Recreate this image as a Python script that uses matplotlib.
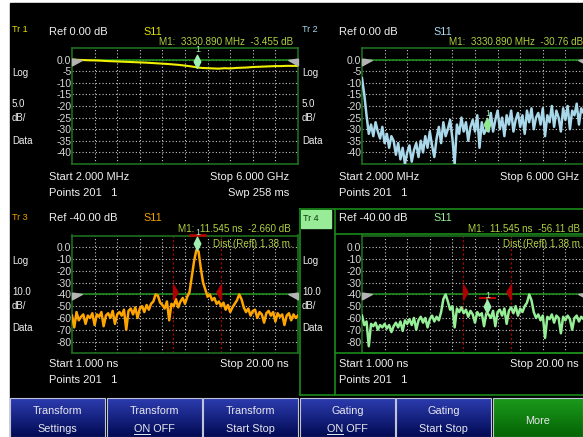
import numpy as np  # numbers for axes and gradients
import matplotlib
matplotlib.use("Agg")
import matplotlib.pyplot as plt  # plotting
from matplotlib.path import Path
from matplotlib.patches import Rectangle
from matplotlib.colors import LinearSegmentedColormap

plt.rcParams['font.family'] = ['Liberation Sans', 'DejaVu Sans']

W, H = 583, 437  # picture size in pixels

# ---- data ----
freq_start, freq_stop = 2.0, 6000.0  # MHz (Tr 1, Tr 2)
time_start, time_stop = 1.0, 20.0    # ns (Tr 3, Tr 4)

# Tr 1: S11 log mag, 41 samples across the sweep
tr1_db = [0.0, -0.1, -0.2, -0.3, -0.35, -0.45, -0.6, -0.7, -0.8, -0.9,
          -1.0, -1.1, -1.2, -1.3, -1.45, -1.6, -1.75, -1.9, -2.1, -2.3,
          -2.6, -2.9, -3.3, -3.6, -3.7, -3.8, -3.9, -3.7, -3.8, -3.6,
          -3.5, -3.4, -3.2, -3.1, -3.0, -2.9, -2.8, -2.8, -2.7, -2.7, -2.7]

# Tr 2: S11 log mag (noisy), 101 samples
tr2_db = [-8, -15, -24, -32, -28, -33, -27, -31, -34, -29,
          -36, -32, -38, -33, -35, -41, -36, -43, -38, -45,
          -40, -37, -44, -39, -36, -42, -35, -40, -33, -38,
          -31, -37, -42, -34, -29, -36, -27, -33, -30, -26,
          -34, -45, -28, -32, -25, -31, -27, -35, -29, -26,
          -31, -24, -38, -27, -32, -30, -31, -23, -31, -26,
          -22, -30, -25, -33, -24, -28, -22, -31, -26, -23,
          -29, -24, -32, -22, -27, -21, -30, -25, -23, -28,
          -21, -33, -24, -27, -20, -29, -22, -25, -31, -21,
          -26, -20, -30, -22, -24, -19, -28, -21, -23, -20, -26]

# Tr 3: time domain, 101 samples
tr3_db = [-58, -68, -55, -62, -59, -57, -65, -58, -60, -56,
          -66, -57, -59, -55, -67, -58, -56, -60, -54, -65,
          -57, -55, -58, -53, -70, -54, -52, -57, -51, -60,
          -52, -50, -55, -49, -53, -48, -46, -40, -41, -47,
          -49, -52, -46, -62, -48, -50, -44, -51, -46, -43,
          -48, -42, -38, -25, -12, -2.5, -3.5, -18, -30, -36,
          -42, -40, -45, -43, -48, -46, -50, -47, -53, -49,
          -55, -51, -48, -45, -40, -44, -51, -55, -52, -58,
          -54, -53, -60, -55, -57, -64, -56, -54, -58, -55,
          -63, -56, -59, -57, -66, -58, -56, -62, -57, -60, -58]

# Tr 4: time domain, gated, 101 samples
tr4_db = [-58, -66, -63, -84, -65, -67, -64, -70, -66, -68,
          -65, -69, -66, -72, -67, -64, -68, -63, -71, -62,
          -65, -61, -66, -60, -70, -62, -59, -64, -60, -68,
          -61, -58, -63, -59, -62, -55, -44, -40, -46, -53,
          -50, -68, -52, -55, -51, -56, -53, -59, -54, -57,
          -64, -55, -58, -56, -67, -56, -57, -60, -54, -67,
          -55, -53, -58, -52, -65, -54, -51, -56, -50, -58,
          -52, -55, -50, -47, -40, -45, -55, -60, -57, -62,
          -58, -77, -59, -61, -57, -64, -58, -60, -73, -59,
          -62, -58, -61, -70, -60, -58, -63, -59, -61, -58, -62]

marker_freq = 3330.890  # MHz
marker_time = 11.545    # ns
m1_values = [-3.455, -30.76, -2.660, -56.11]
gate_start, gate_stop = 9.5, 13.5  # ns
gate_bar = (10.9, 12.2)            # ns, red bar near the marker

tr1_ticks = [0, -5, -10, -15, -20, -25, -30, -35, -40]
tr1_labels = ["0.0", "-5", "-10", "-15", "-20", "-25", "-30", "-35", "-40"]
tr3_ticks = [0, -10, -20, -30, -40, -50, -60, -70, -80]
tr3_labels = ["0.0", "-10", "-20", "-30", "-40", "-50", "-60", "-70", "-80"]

button_labels = [("Transform", "Settings"), ("Transform", "ON OFF"),
                 ("Transform", "Start Stop"), ("Gating", "ON OFF"),
                 ("Gating", "Start Stop"), ("More", "")]

# ---- colours ----
GRID = '#c8c8c8'
FRAME = '#1e6e1e'
REFLINE = '#1e8a1e'
TEXT = '#f0f0f0'
MKTEXT = '#b0d040'
YELLOW = '#f0f000'
BLUE = '#a8d8ea'
ORANGE = '#ffa500'
GREEN = '#96ee96'
GATE = '#b00000'


def fbox(x0, y0, x1, y1):
    """pixel box -> figure fraction rectangle"""
    return [x0 / W, 1 - y1 / H, (x1 - x0) / W, (y1 - y0) / H]


fig = plt.figure(figsize=(W / 100, H / 100), dpi=100, facecolor='white')

# background layer (pixel coordinates)
bg = fig.add_axes([0, 0, 1, 1], zorder=-1)
bg.set_xlim(0, W)
bg.set_ylim(H, 0)
bg.axis('off')
bg.add_patch(Rectangle((10, 3), W - 10, H - 3, color='black'))

# foreground layer for texts and frames
fg = fig.add_axes([0, 0, 1, 1], zorder=5)
fg.set_xlim(0, W)
fg.set_ylim(H, 0)
fg.patch.set_alpha(0)
fg.axis('off')


def label(x, y, s, color=TEXT, size=8, ha='left'):
    return fg.text(x, y, s, color=color, fontsize=size, ha=ha, va='center')


def make_panel(x0, y0, x1, y1, xlim, ylim, ticks, labels, ref):
    ax = fig.add_axes(fbox(x0, y0, x1, y1))
    ax.set_facecolor('none')
    ax.set_xlim(*xlim)
    ax.set_ylim(*ylim)
    ax.set_xticks(np.linspace(xlim[0], xlim[1], 11)[1:-1])
    ax.set_xticklabels([])
    ax.set_yticks(ticks)
    ax.set_yticklabels(labels)
    ax.tick_params(length=0, pad=0.5, labelsize=7.5, labelcolor='#d8d8d8')
    ax.grid(True, color=GRID, linestyle=(0, (1, 2)), linewidth=0.8)
    ax.set_axisbelow(True)
    for s in ax.spines.values():
        s.set_color(FRAME)
        s.set_linewidth(1.2)
    ax.axhline(ref, color=REFLINE, lw=1.2, zorder=1)
    # grey reference arrows on both edges
    ax.plot([xlim[0]], [ref], marker=ref_left, ms=14, color='#b4b4b4',
            clip_on=False, zorder=4)
    ax.plot([xlim[1]], [ref], marker=ref_right, ms=14, color='#b4b4b4',
            clip_on=False, zorder=4)
    return ax


# marker shapes
ref_left = Path([(0, 0.15), (1, 0), (0, -0.55), (0, 0.15)])
ref_right = Path([(0, 0.15), (-1, 0), (0, -0.55), (0, 0.15)])
diamond = Path([(0, 0), (-0.25, 0.5), (0, 1), (0.25, 0.5), (0, 0)])
gate_l = Path([(0, -1), (0, 1), (0.6, 0), (0, -1)])
gate_r = Path([(0, -1), (0, 1), (-0.6, 0), (0, -1)])


def add_marker(ax, x, y, color='#a0f0b0'):
    ax.plot([x], [y], marker=diamond, ms=19, color=color, ls='none',
            clip_on=False, zorder=6)
    ax.annotate('1', (x, y), xytext=(0, 9.5), textcoords='offset points',
                ha='center', va='bottom', color='#a0f0b0', fontsize=6.5,
                annotation_clip=False, zorder=6)


def add_gate(ax):
    for g in (gate_start, gate_stop):
        ax.axvline(g, color=GATE, lw=0.8, linestyle=(0, (2, 2)), zorder=2)
    ax.plot([gate_start], [-38], marker=gate_l, ms=11, color=GATE, ls='none', zorder=5)
    ax.plot([gate_stop], [-38], marker=gate_r, ms=11, color=GATE, ls='none', zorder=5)


# ---- Tr 1 ----
ax1 = make_panel(72, 48, 298, 164, (freq_start, freq_stop), (-45, 5),
                 tr1_ticks, tr1_labels, 0)
x1 = np.linspace(freq_start, freq_stop, len(tr1_db))
ax1.plot(x1, tr1_db, color=YELLOW, lw=1.5, zorder=3)
add_marker(ax1, marker_freq, m1_values[0])

# ---- Tr 2 (right edge runs off the screen) ----
ax2 = make_panel(362, 48, 588, 164, (freq_start, freq_stop), (-45, 5),
                 tr1_ticks, tr1_labels, 0)
x2 = np.linspace(freq_start, freq_stop, len(tr2_db))
ax2.plot(x2, tr2_db, color=BLUE, lw=1.8, zorder=3)
add_marker(ax2, marker_freq, m1_values[1], color='#90e890')

# ---- Tr 3 ----
ax3 = make_panel(72, 235.5, 298, 353.3, (time_start, time_stop), (-90, 10),
                 tr3_ticks, tr3_labels, -40)
x3 = np.linspace(time_start, time_stop, len(tr3_db))
ax3.plot(x3, tr3_db, color=ORANGE, lw=1.8, zorder=3)
add_gate(ax3)
ax3.plot(gate_bar, [10, 10], color='#c00000', lw=1.8, clip_on=False, zorder=6)
add_marker(ax3, marker_time, m1_values[2])

# ---- Tr 4 ----
ax4 = make_panel(362, 235.5, 588, 353.3, (time_start, time_stop), (-90, 10),
                 tr3_ticks, tr3_labels, -40)
x4 = np.linspace(time_start, time_stop, len(tr4_db))
ax4.plot(x4, tr4_db, color=GREEN, lw=1.8, zorder=3)
add_gate(ax4)
ax4.plot(gate_bar, [-43, -43], color='#c00000', lw=1.5, zorder=6)
ax4.plot([marker_time, marker_time], [-43, m1_values[3]], color='#8a6a3a', lw=1.5, zorder=6)
add_marker(ax4, marker_time, m1_values[3])

# ---- active trace frame around Tr 4 ----
frame_lines = [((300, 583), (209, 209)), ((300, 300), (209, 395)),
               ((335, 335), (209, 395)), ((335, 583), (234, 234)),
               ((335, 583), (353, 353)), ((300, 583), (395, 395))]
for xs, ys in frame_lines:
    fg.plot(xs, ys, color='#1a8a1a', lw=1.2)
fg.add_patch(Rectangle((301, 210), 30, 18, color='#98ec98'))

# ---- texts ----
label(12, 29.5, "Tr 1", color='#e8e000', size=6.5)
label(302, 29.5, "Tr 2", color=BLUE, size=6.5)
label(12, 218, "Tr 3", color='#f0a000', size=6.5)
label(303, 218.5, "Tr 4", color='#0a3a0a', size=6.5)

label(49, 32, "Ref 0.00 dB")
label(339, 32, "Ref 0.00 dB")
label(49, 218, "Ref -40.00 dB")
label(339, 218, "Ref -40.00 dB")
label(143, 32, "S11", color='#e0e000', size=7.8)
label(433, 32, "S11", color=BLUE, size=7.8)
label(143, 218, "S11", color='#f0a000', size=7.8)
label(433, 218, "S11", color=GREEN, size=7.8)

label(159, 42, "M1:  %.3f MHz  %.3f dB" % (marker_freq, m1_values[0]), color=MKTEXT, size=7.1)
label(449, 42, "M1:  %.3f MHz  %.2f dB" % (marker_freq, m1_values[1]), color=MKTEXT, size=7.1)
label(178, 229, "M1:  %.3f ns  %.3f dB" % (marker_time, m1_values[2]), color=MKTEXT, size=7.1)
label(468, 229, "M1:  %.3f ns  %.2f dB" % (marker_time, m1_values[3]), color=MKTEXT, size=7.1)
label(213, 244, "Dist.(Refl) 1.38 m.", color=MKTEXT, size=7.1)
label(503, 244, "Dist.(Refl) 1.38 m.", color=MKTEXT, size=7.1)

for ox, scale in ((0, "5.0"), (290, "5.0")):
    label(ox + 12, 73, "Log", size=7)
    label(ox + 12, 104, scale, size=7)
    label(ox + 12, 118, "dB/", size=7)
    label(ox + 12, 141, "Data", size=7)
for ox in (0, 290):
    label(ox + 12, 261, "Log", size=7)
    label(ox + 12, 292, "10.0", size=7)
    label(ox + 12, 306, "dB/", size=7)
    label(ox + 12, 328, "Data", size=7)

label(49, 177, "Start 2.000 MHz")
label(289, 177, "Stop 6.000 GHz", ha='right')
label(49, 193, "Points 201   1")
label(289, 193, "Swp 258 ms", ha='right')
label(339, 177, "Start 2.000 MHz")
label(579, 177, "Stop 6.000 GHz", ha='right')
label(339, 193, "Points 201   1")
label(49, 364, "Start 1.000 ns")
label(289, 364, "Stop 20.00 ns", ha='right')
label(49, 380, "Points 201   1")
label(339, 364, "Start 1.000 ns")
label(579, 364, "Stop 20.00 ns", ha='right')
label(339, 380, "Points 201   1")

# ---- softkey buttons ----
blue_cm = LinearSegmentedColormap.from_list('btn', ['#2c3cb0', '#020a52'])
green_cm = LinearSegmentedColormap.from_list('more', ['#1c9a1c', '#046404'])
grad = np.linspace(0, 1, 64)[:, None]
renderer = fig.canvas.get_renderer()
for i, (top, bottom) in enumerate(button_labels):
    bx0 = 10 + i * 96.6
    bx1 = bx0 + 95 if i < 5 else W
    cm = green_cm if top == "More" else blue_cm
    bg.imshow(grad, extent=(bx0, bx1, H, 398), cmap=cm, aspect='auto', zorder=2)
    bg.add_patch(Rectangle((bx0, 398), bx1 - bx0, H - 398, fill=False,
                           edgecolor='#c0c4d8', lw=0.8, zorder=3))
    cx = (bx0 + bx1) / 2
    if bottom == "":
        label(cx, 420.5, top, color='#e8e8f0', size=7.8, ha='center')
        continue
    label(cx, 410.5, top, color='#e8e8f0', size=7.8, ha='center')
    t = label(cx, 429, bottom, color='#e8e8f0', size=7.8, ha='center')
    if bottom.startswith("ON"):
        w_full = t.get_window_extent(renderer).width
        tmp = label(0, 0, "ON", size=7.8)
        w_on = tmp.get_window_extent(renderer).width
        tmp.remove()
        left = cx - w_full / 2
        fg.plot([left, left + w_on], [434, 434], color='#e8e8f0', lw=0.7)

fig.savefig("out.png", dpi=100, facecolor=fig.get_facecolor())
